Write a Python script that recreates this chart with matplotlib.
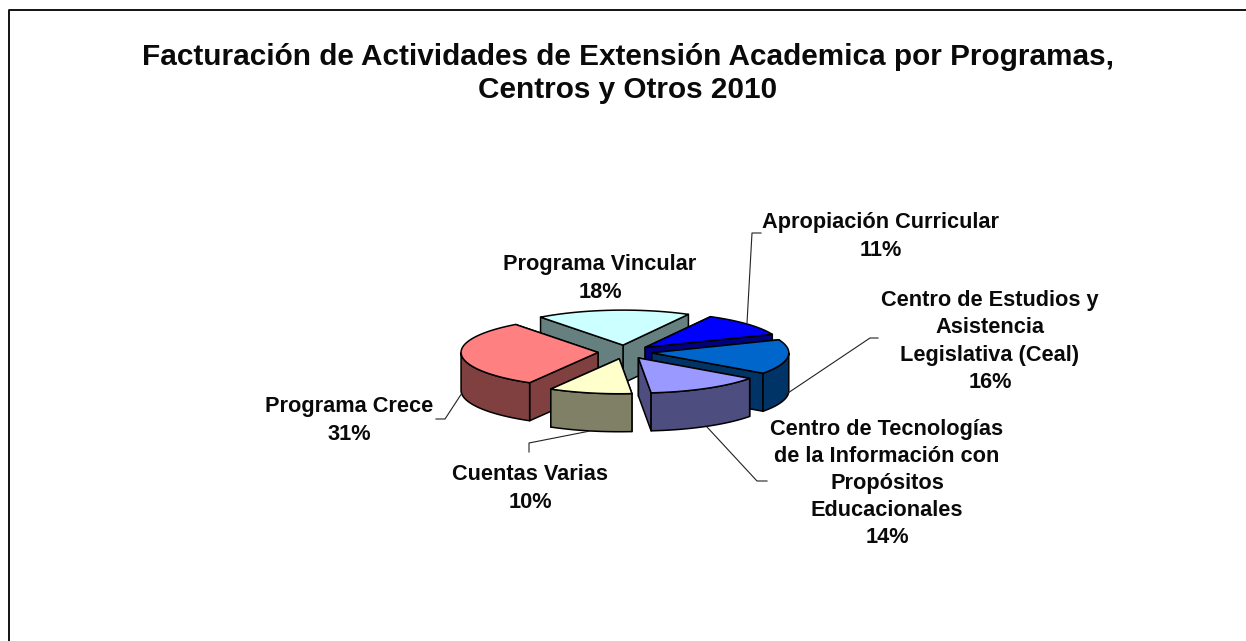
import numpy as np
import matplotlib
matplotlib.use("Agg")
import matplotlib.pyplot as plt
from matplotlib.patches import Polygon

title = "Facturación de Actividades de Extensión Academica por Programas,\nCentros y Otros 2010"
categories = ["Programa Vincular", "Apropiación Curricular",
              "Centro de Estudios y\nAsistencia\nLegislativa (Ceal)",
              "Centro de Tecnologías\nde la Información con\nPropósitos\nEducacionales",
              "Cuentas Varias", "Programa Crece"]
shares = [18.2, 11.0, 16.0, 13.6, 9.8, 31.4]
top_colors = ["#CCFFFF", "#0000FF", "#0066CC", "#9999FF", "#FFFFCC", "#FF8080"]
side_colors = ["#668080", "#000080", "#003366", "#4D4D80", "#808066", "#804040"]
label_xy = [(600, 278.5), (881, 236.5), (990, 341.5), (887, 483.5), (530, 488.5), (349, 420.5)]
leaders = [None,
           [(747, 323), (752, 233), (761, 233)],
           [(785, 395), (870, 338), (878, 338)],
           [(707, 427), (757, 481), (767, 481)],
           [(590, 431), (529, 443), (529, 452)],
           [(462, 393), (445, 419), (436, 419)]]
draw_order = [0, 1, 2, 5, 4, 3]

plt.rcParams["font.family"] = ["Liberation Sans", "DejaVu Sans"]
fig = plt.figure(figsize=(12.46, 6.41), dpi=100)
ax = fig.add_axes([0, 0, 1, 1])
ax.set_xlim(0, 1246)
ax.set_ylim(641, 0)
ax.axis("off")

CX, CY, RX, RY, EXPL, DEPTH, START = 625, 352, 137, 35, 27, 38, -37
edges = START + np.cumsum([0] + shares) / sum(shares) * 360

def pt(a):
    t = np.radians(a)
    return np.array([RX * np.sin(t), -RY * np.cos(t)])

for i in draw_order:
    a0, a1 = edges[i], edges[i + 1]
    mid = (a0 + a1) / 2
    apex = np.array([CX, CY]) + pt(mid) * EXPL / RX
    angs = np.linspace(a0, a1, 60)
    arc = np.array([apex + pt(a) for a in angs])
    down = np.array([0, DEPTH])
    kw = dict(edgecolor="black", linewidth=1.1, joinstyle="round")
    for w in sorted([arc[0], arc[-1]], key=lambda p: p[1]):
        ax.add_patch(Polygon([apex, w, w + down, apex + down], facecolor=side_colors[i], **kw))
    vis = np.cos(np.radians(angs)) < 0
    if vis.any():
        s = arc[vis]
        ax.add_patch(Polygon(np.vstack([s, (s + down)[::-1]]), facecolor=side_colors[i], **kw))
    ax.add_patch(Polygon(np.vstack([apex, arc]), facecolor=top_colors[i], **kw))

for pts in leaders:
    if pts:
        ax.plot(*zip(*pts), color="#222222", lw=0.8)

for cat, val, (x, y) in zip(categories, shares, label_xy):
    ax.text(x, y, f"{cat}\n{val:.0f}%", ha="center", va="center", fontsize=15.7,
            fontweight="bold", linespacing=1.38, color="#0a0a0a")

ax.text(628, 73.5, title, ha="center", va="center", fontsize=21.4,
        fontweight="bold", linespacing=1.25, color="#0a0a0a")

ax.plot([8.5, 8.5, 1246], [641, 9.5, 9.5], color="black", lw=1.3)

fig.savefig("out.png", dpi=100)
